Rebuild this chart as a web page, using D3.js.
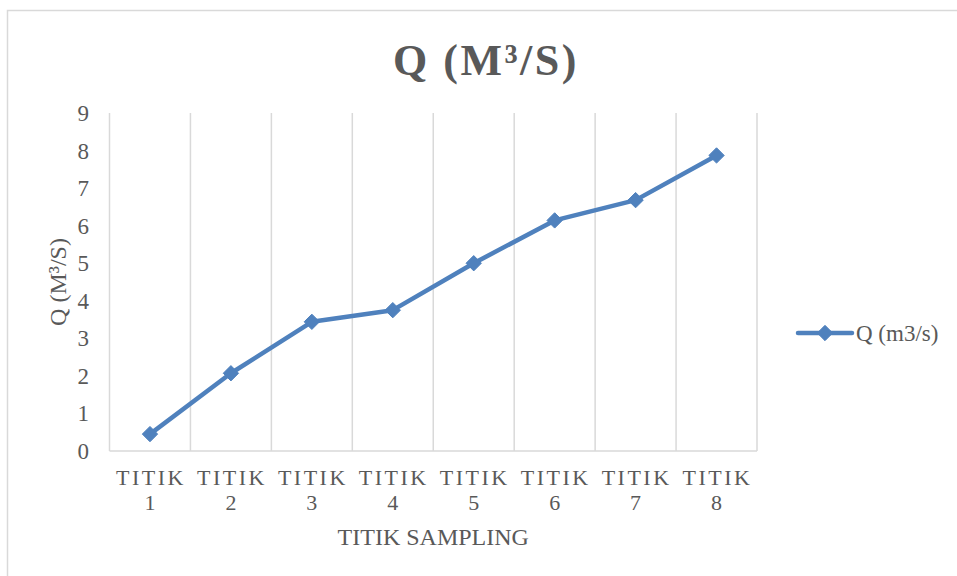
<!DOCTYPE html>
<html><head><meta charset="utf-8">
<script src="https://cdn.jsdelivr.net/npm/d3@7"></script>
<style>body{margin:0;background:#fff;} svg{display:block;}</style>
</head><body>
<script>
const categories = ["TITIK 1","TITIK 2","TITIK 3","TITIK 4","TITIK 5","TITIK 6","TITIK 7","TITIK 8"];
const values = [0.45, 2.07, 3.44, 3.75, 5.0, 6.14, 6.68, 7.87];
const yTicks = [0,1,2,3,4,5,6,7,8,9];
const seriesName = "Q (m3/s)";
const titleText = "Q (M³/S)";
const xTitle = "TITIK SAMPLING";
const yTitle = "Q (M³/S)";

const W = 957, H = 576;
const svg = d3.select("body").append("svg").attr("width", W).attr("height", H);
const font = "'Liberation Serif','Times New Roman',serif";
const txt = "#595959";
const blue = "#4F81BD";

svg.append("rect").attr("x", 7.5).attr("y", 10.5).attr("width", W).attr("height", H)
  .attr("fill", "#fff").attr("stroke", "#d9d9d9").attr("stroke-width", 1.5);

const pL = 109.5, pR = 757, pT = 113, pB = 451;
const x = d3.scaleBand().domain(categories).range([pL, pR]);
const y = d3.scaleLinear().domain([0, 9]).range([pB, pT]);

// vertical gridlines at category boundaries
const bounds = categories.map(c => x(c)).concat([x.range()[1]]);
svg.append("g").selectAll("line").data(bounds).join("line")
  .attr("x1", d => d).attr("x2", d => d).attr("y1", pT).attr("y2", pB)
  .attr("stroke", "#d9d9d9").attr("stroke-width", 1.5);
svg.append("line").attr("x1", pL).attr("x2", pR).attr("y1", pB).attr("y2", pB)
  .attr("stroke", "#d9d9d9").attr("stroke-width", 1.5);

// y tick labels
svg.append("g").selectAll("text").data(yTicks).join("text")
  .attr("x", 89).attr("y", d => y(d)).attr("dy", "0.35em")
  .attr("text-anchor", "end").attr("font-family", font).attr("font-size", 23)
  .attr("fill", txt).text(d => d);

// x tick labels
const xl = svg.append("g").selectAll("text").data(categories).join("text")
  .attr("font-family", font).attr("font-size", 22).attr("fill", txt)
  .attr("text-anchor", "middle");
xl.append("tspan").attr("x", d => x(d) + x.bandwidth()/2 + 1).attr("y", 485)
  .attr("letter-spacing", 2.5).text(d => d.split(" ")[0]);
xl.append("tspan").attr("x", d => x(d) + x.bandwidth()/2).attr("y", 510)
  .text(d => d.split(" ")[1]);

// axis titles
svg.append("text").attr("x", (pL + pR)/2).attr("y", 545).attr("text-anchor", "middle")
  .attr("font-family", font).attr("font-size", 24).attr("fill", txt).text(xTitle);
svg.append("text").attr("transform", `translate(66,${(pT+pB)/2}) rotate(-90)`)
  .attr("text-anchor", "middle").attr("font-family", font).attr("font-size", 24)
  .attr("fill", txt).text(yTitle);

// title
svg.append("text").attr("x", 486).attr("y", 75).attr("text-anchor", "middle")
  .attr("font-family", font).attr("font-size", 44).attr("font-weight", "bold")
  .attr("letter-spacing", 2.5).attr("fill", txt).attr("xml:space", "preserve").text(titleText);

// line
const line = d3.line().x((d, i) => x(categories[i]) + x.bandwidth()/2).y(d => y(d));
svg.append("path").datum(values).attr("d", line).attr("fill", "none")
  .attr("stroke", blue).attr("stroke-width", 4.5).attr("stroke-linejoin", "round");
const diamond = d3.symbol().type(d3.symbolDiamond2).size(150);
svg.append("g").selectAll("path").data(values).join("path")
  .attr("d", diamond)
  .attr("transform", (d, i) => `translate(${x(categories[i]) + x.bandwidth()/2},${y(d)})`)
  .attr("fill", blue).attr("stroke", blue).attr("stroke-width", 1);

// legend
const lg = svg.append("g");
lg.append("line").attr("x1", 798).attr("x2", 852).attr("y1", 333).attr("y2", 333)
  .attr("stroke", blue).attr("stroke-width", 4.5).attr("stroke-linecap", "round");
lg.append("path").attr("d", diamond).attr("transform", "translate(825,333)")
  .attr("fill", blue).attr("stroke", blue);
lg.append("text").attr("x", 856).attr("y", 333).attr("dy", "0.35em")
  .attr("font-family", font).attr("font-size", 23).attr("fill", txt).text(seriesName);
</script>
</body></html>
